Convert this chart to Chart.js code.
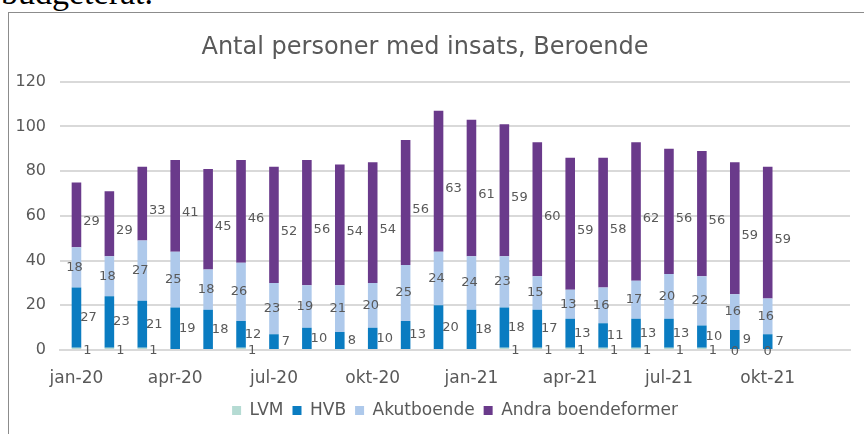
<!DOCTYPE html>
<html>
<head>
<meta charset="utf-8">
<script src="https://cdn.jsdelivr.net/npm/chart.js@4"></script>
<style>
  html, body { margin: 0; padding: 0; background: #fff; overflow: hidden; }
  body { width: 864px; height: 434px; position: relative; }
  #docText {
    position: absolute; left: 1px; top: -26px;
    font-family: "Liberation Serif", serif; font-size: 34px; color: #000;
    white-space: nowrap;
  }
  #frame {
    position: absolute; left: 8px; top: 12px; width: 900px; height: 500px;
    border: 1px solid #8c8c8c; box-sizing: border-box;
  }
  #wrap { position: absolute; left: 0; top: 0; width: 864px; height: 434px; }
</style>
</head>
<body>
<div id="docText">budgeterat.</div>
<div id="frame"></div>
<div id="wrap"><canvas id="chart"></canvas></div>

<script>
// ===== Data =====
let months = [
  "jan-20", "feb-20", "mar-20", "apr-20", "maj-20", "jun-20",
  "jul-20", "aug-20", "sep-20", "okt-20", "nov-20", "dec-20",
  "jan-21", "feb-21", "mar-21", "apr-21", "maj-21", "jun-21",
  "jul-21", "aug-21", "sep-21", "okt-21", "nov-21", "dec-21"
];

let lvm = [1, 1, 1, null, null, 1, null, null, null, null, null, null,
           null, 1, 1, 1, 1, 1, 1, 1, 0, 0];
let hvb = [27, 23, 21, 19, 18, 12, 7, 10, 8, 10, 13, 20,
           18, 18, 17, 13, 11, 13, 13, 10, 9, 7];
let akutboende = [18, 18, 27, 25, 18, 26, 23, 19, 21, 20, 25, 24,
                  24, 23, 15, 13, 16, 17, 20, 22, 16, 16];
let andra = [29, 29, 33, 41, 45, 46, 52, 56, 54, 54, 56, 63,
             61, 59, 60, 59, 58, 62, 56, 56, 59, 59];

let yTicks = [0, 20, 40, 60, 80, 100, 120];

// ===== Styles =====
let textGray = "#595959";
let fontName = "DejaVu Sans";

// label offsets per series: [dx, dy]
let labelOffsets = [[11, 2], [12, 0], [-2, 0], [15, 7]];

// ===== Value labels (no datalabels plugin available) =====
let valueLabels = {
  id: "valueLabels",
  afterDatasetsDraw(chart) {
    let ctx = chart.ctx;
    ctx.save();
    ctx.font = "13px '" + fontName + "'";
    ctx.fillStyle = textGray;
    ctx.textAlign = "center";
    ctx.textBaseline = "middle";

    chart.data.datasets.forEach((ds, i) => {
      let meta = chart.getDatasetMeta(i);
      meta.data.forEach((bar, j) => {
        let v = ds.data[j];
        if (v === null || v === undefined) return;
        let off = labelOffsets[i];
        let x, y;
        if (i === 0) {
          // LVM sits at the baseline
          x = v === 0 ? bar.x : bar.x + off[0];
          y = bar.base + off[1];
        } else {
          x = bar.x + off[0];
          y = (bar.y + bar.base) / 2 + off[1];
        }
        ctx.fillText(v, x, y);
      });
    });
    ctx.restore();
  }
};

// ===== Chart =====
let ctx = document.getElementById("chart").getContext("2d");

let chart = new Chart(ctx, {
  type: "bar",
  data: {
    labels: months,
    datasets: [
      { label: "LVM", data: lvm, backgroundColor: "#b5dbd3" },
      { label: "HVB", data: hvb, backgroundColor: "#0a7cc1" },
      { label: "Akutboende", data: akutboende, backgroundColor: "#aec9eb" },
      { label: "Andra boendeformer", data: andra, backgroundColor: "#6a3a8b" }
    ]
  },
  options: {
    responsive: true,
    maintainAspectRatio: false,
    animation: false,
    datasets: {
      bar: { barPercentage: 0.52, categoryPercentage: 0.56 }
    },
    layout: { padding: { left: 0, right: 14, top: 0, bottom: 5 } },
    plugins: {
      title: {
        display: true,
        text: "Antal personer med insats, Beroende",
        color: textGray,
        font: { family: fontName, size: 24, weight: "normal" },
        padding: { top: 33, bottom: 20 }
      },
      legend: {
        position: "bottom",
        fullSize: false,
        labels: {
          color: textGray,
          font: { family: fontName, size: 17 },
          boxWidth: 9,
          boxHeight: 9,
          padding: 9
        }
      },
      tooltip: { enabled: false }
    },
    scales: {
      x: {
        stacked: true,
        grid: { display: false },
        border: { display: true, color: "#d9d9d9", width: 2 },
        afterFit: (scale) => { scale.height = 43; },
        ticks: {
          color: textGray,
          font: { family: fontName, size: 17 },
          autoSkip: false,
          maxRotation: 0,
          padding: 10,
          callback: function (val, idx) {
            return idx % 3 === 0 && idx < 22 ? months[idx] : "";
          }
        }
      },
      y: {
        stacked: true,
        min: 0,
        max: 120,
        afterBuildTicks: (scale) => {
          scale.ticks = yTicks.map(v => ({ value: v }));
        },
        afterFit: (scale) => { scale.width = 60; },
        grid: { color: "#d9d9d9", lineWidth: 2, drawTicks: false, tickLength: 0 },
        border: { display: false },
        ticks: {
          color: textGray,
          font: { family: fontName, size: 16 },
          padding: 14
        }
      }
    }
  },
  plugins: [valueLabels]
});
</script>
</body>
</html>
